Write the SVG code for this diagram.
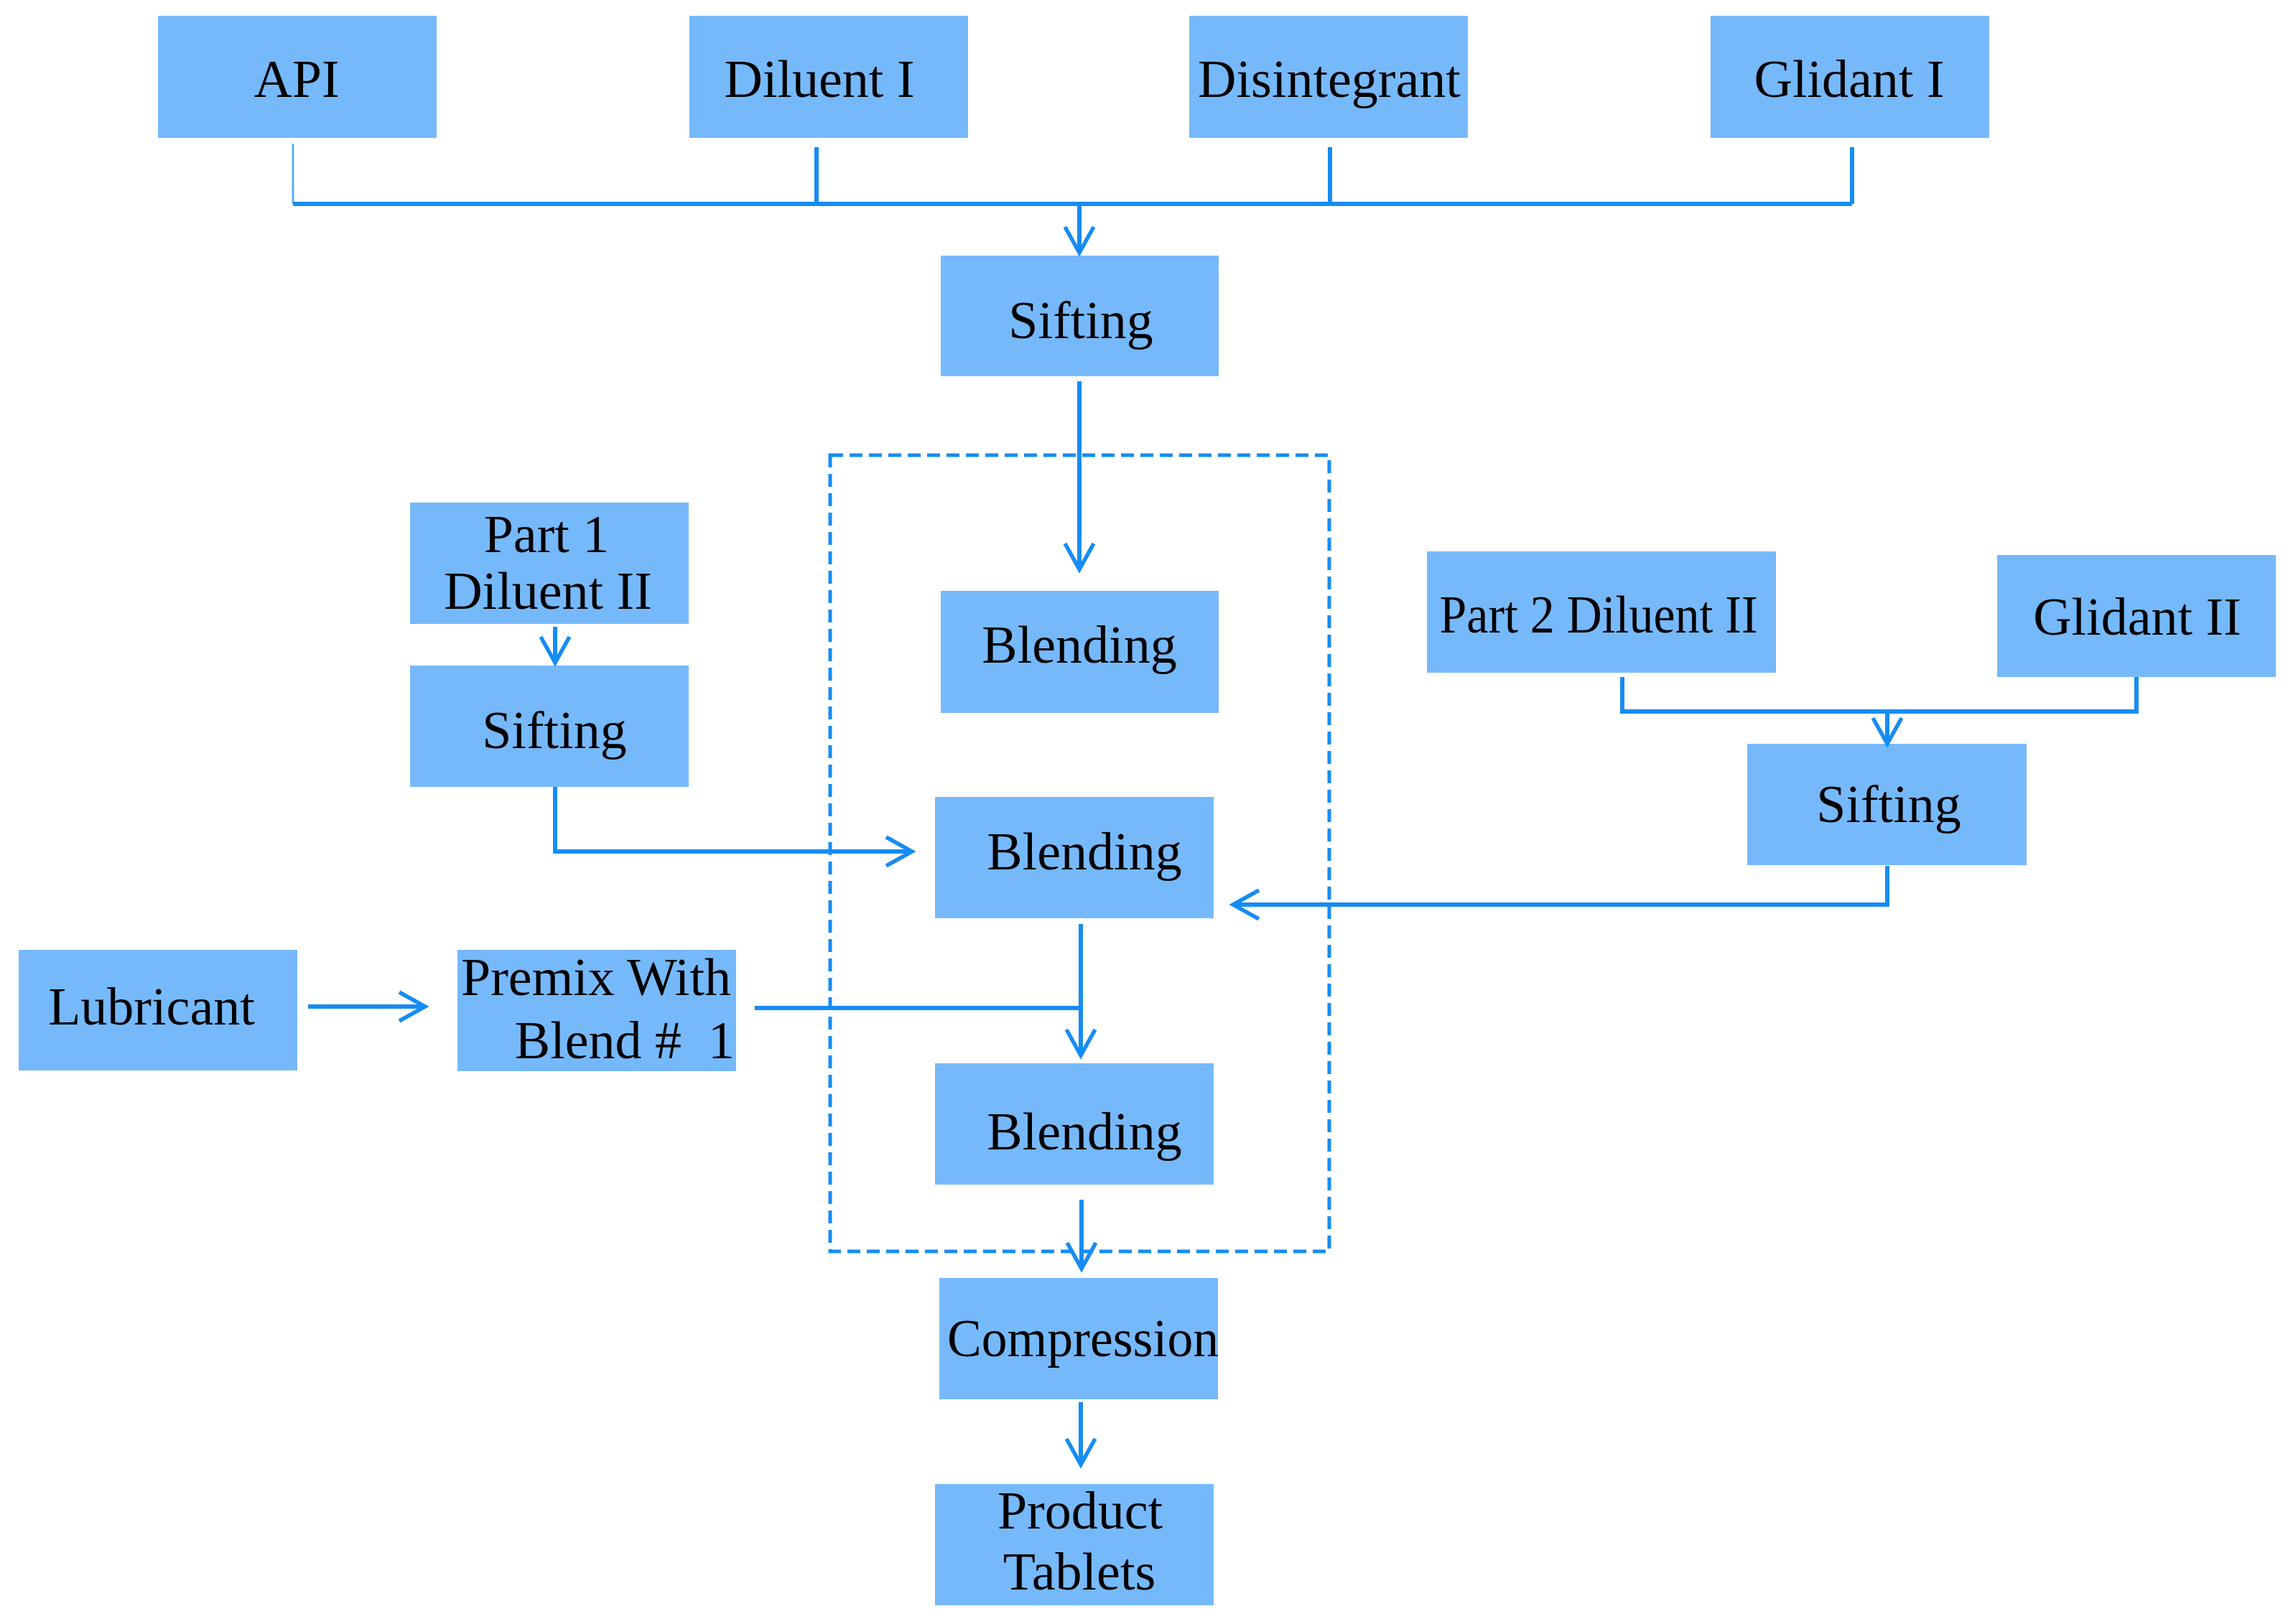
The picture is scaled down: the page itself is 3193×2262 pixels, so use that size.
<svg xmlns="http://www.w3.org/2000/svg" width="3193" height="2262" viewBox="0 0 3193 2262">
<style>
.box{fill:#76B9FB;}
.t{font-family:"Liberation Serif","DejaVu Serif",serif;font-size:74px;fill:#000;text-anchor:middle;white-space:pre;}
.c{fill:none;stroke:#168CF3;stroke-width:6;}
.thin{fill:none;stroke:#5AAEF7;stroke-width:3;}
.dash{fill:none;stroke:#168CF3;stroke-width:5;stroke-dasharray:18 9;}
</style>
<defs>
<marker id="arr" markerUnits="userSpaceOnUse" markerWidth="60" markerHeight="60" viewBox="-45 -30 55 60" refX="0" refY="0" orient="auto">
<path d="M-36,-20 L0,0 L-36,20" fill="none" stroke="#168CF3" stroke-width="5.5"/>
</marker>
</defs>
<rect width="3193" height="2262" fill="#fff"/>
<g id="nodes">
<g id="api"><rect class="box" x="220" y="22" width="388" height="170"/><text class="t" x="413" y="135">API</text></g>
<g id="diluent1"><rect class="box" x="960" y="22" width="388" height="170"/><text class="t" x="1141" y="135">Diluent I</text></g>
<g id="disintegrant"><rect class="box" x="1656" y="22" width="388" height="170"/><text class="t" x="1851" y="135">Disintegrant</text></g>
<g id="glidant1"><rect class="box" x="2382" y="22" width="388" height="170"/><text class="t" x="2575" y="135">Glidant I</text></g>
<g id="sifting1"><rect class="box" x="1310" y="356" width="387" height="168"/><text class="t" x="1505" y="471">Sifting</text></g>
<g id="part1"><rect class="box" x="571" y="700" width="388" height="169"/><text class="t" x="761" y="769">Part 1</text><text class="t" x="763" y="848">Diluent II</text></g>
<g id="sifting2"><rect class="box" x="571" y="927" width="388" height="169"/><text class="t" x="772" y="1042">Sifting</text></g>
<g id="blending1"><rect class="box" x="1310" y="823" width="387" height="170"/><text class="t" x="1503" y="923">Blending</text></g>
<g id="blending2"><rect class="box" x="1302" y="1110" width="388" height="169"/><text class="t" x="1510" y="1211">Blending</text></g>
<g id="lubricant"><rect class="box" x="26" y="1323" width="388" height="168"/><text class="t" x="211" y="1427">Lubricant</text></g>
<g id="premix"><rect class="box" x="637" y="1323" width="388" height="169"/><text class="t" x="830" y="1386">Premix With</text><text class="t" x="870" y="1474">Blend #  1</text></g>
<g id="part2"><rect class="box" x="1987" y="768" width="486" height="169"/><text class="t" x="2226" y="881" textLength="443" lengthAdjust="spacingAndGlyphs">Part 2 Diluent II</text></g>
<g id="glidant2"><rect class="box" x="2781" y="773" width="388" height="170"/><text class="t" x="2976" y="884">Glidant II</text></g>
<g id="sifting3"><rect class="box" x="2433" y="1036" width="389" height="169"/><text class="t" x="2630" y="1145">Sifting</text></g>
<g id="blending3"><rect class="box" x="1302" y="1481" width="388" height="169"/><text class="t" x="1510" y="1601">Blending</text></g>
<g id="compression"><rect class="box" x="1308" y="1780" width="388" height="169"/><text class="t" x="1508" y="1889" textLength="378" lengthAdjust="spacingAndGlyphs">Compression</text></g>
<g id="product"><rect class="box" x="1302" y="2067" width="388" height="169"/><text class="t" x="1504" y="2129">Product</text><text class="t" x="1503" y="2214">Tablets</text></g>
</g>
<g id="group-box"><rect class="dash" x="1156" y="634" width="695" height="1109"/></g>
<g id="connectors">
<path class="thin" d="M408,200 V284"/>
<path class="c" d="M408,284 H2579"/>
<path class="c" d="M1137,205 V284"/>
<path class="c" d="M1852,205 V284"/>
<path class="c" d="M2579,205 V284"/>
<path class="c" d="M1503,284 V352" marker-end="url(#arr)"/>
<path class="c" d="M1503,531 V793" marker-end="url(#arr)"/>
<path class="c" d="M773,873 V923" marker-end="url(#arr)"/>
<path class="c" d="M773,1096 V1186 H1270" marker-end="url(#arr)"/>
<path class="c" d="M2259,943 V991 H2975 V943"/>
<path class="c" d="M2628,991 V1036" marker-end="url(#arr)"/>
<path class="c" d="M2628,1206 V1260 H1717" marker-end="url(#arr)"/>
<path class="c" d="M429,1402 H592" marker-end="url(#arr)"/>
<path class="c" d="M1051,1404 H1505"/>
<path class="c" d="M1505,1287 V1470" marker-end="url(#arr)"/>
<path class="c" d="M1506,1671 V1767" marker-end="url(#arr)"/>
<path class="c" d="M1505,1953 V2040" marker-end="url(#arr)"/>
</g>
</svg>
